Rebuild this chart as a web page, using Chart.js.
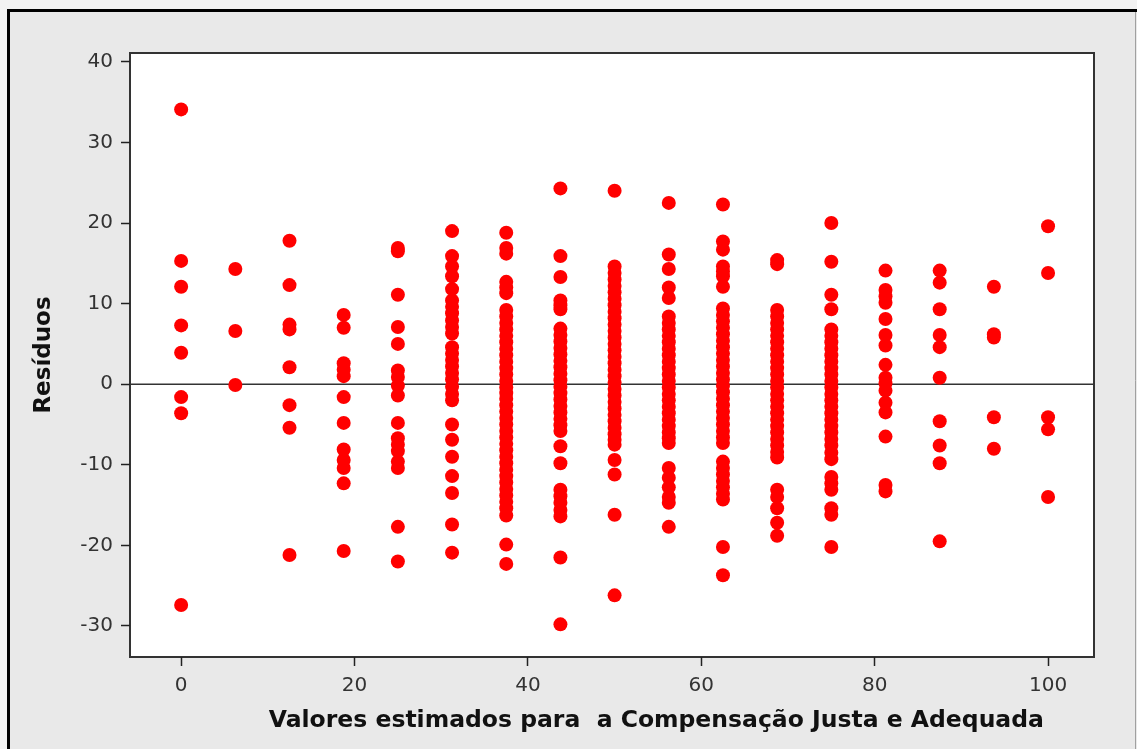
<!DOCTYPE html>
<html>
<head>
<meta charset="utf-8">
<title>Resíduos</title>
<script src="https://cdn.jsdelivr.net/npm/chart.js@4.4.1/dist/chart.umd.min.js"></script>
<style>
  html, body { margin: 0; padding: 0; background: #f2f2f2; }
  #wrap { width: 1137px; height: 749px; }
</style>
</head>
<body>
<div id="wrap"><canvas id="residuos" width="1137" height="749"></canvas></div>
<script>
// fitted values (one column of residuals per level)
const fittedLevels = [0, 6.25, 12.5, 18.75, 25, 31.25, 37.5, 43.75, 50, 56.25, 62.5, 68.75, 75, 81.25, 87.5, 93.75, 100]

const res00 = [34.1, 15.3, 12.1, 7.3, 3.9, -1.6, -3.6, -27.4]
const res06 = [14.3, 6.6, -0.1]
const res12 = [17.8, 12.3, 7.4, 6.8, 2.1, -2.6, -5.4, -21.2]
const res18 = [8.6, 7.0, 2.6, 1.8, 1.0, -1.6, -4.8, -8.1, -9.4, -10.4, -12.3, -20.7]
const res25 = [16.9, 16.5, 11.1, 7.1, 5.0, 1.7, 0.9, -0.2, -1.4, -4.8, -6.7, -7.5, -8.3, -9.6, -10.4, -17.7, -22.0]
const res31 = [19.0, 15.9, 14.6, 13.4, 11.8, 10.4, 9.6, 8.8, 7.9, 7.1, 6.3, 4.6, 3.8, 3.0, 2.2, 1.4, 0.6, -0.3, -1.2, -2.0,
  -5.0, -6.9, -9.0, -11.4, -13.5, -17.4, -20.9]
const res37 = [18.8, 16.9, 16.2, 12.7, 12.0, 11.3, 9.2, 8.4, 7.6, 6.8, 6.0, 5.2, 4.4, 3.6, 2.8, 2.0, 1.2, 0.4, -0.4, -1.1,
  -1.8, -2.6, -3.4, -4.2, -5.0, -5.8, -6.6, -7.4, -8.2, -9.0, -9.8, -10.6, -11.4, -12.2, -13.0, -13.8, -14.6, -15.4, -16.3,
  -19.9, -22.3]
const res43 = [24.3, 15.9, 13.3, 10.4, 9.8, 9.3, 6.9, 6.1, 5.3, 4.5, 3.7, 2.9, 2.1, 1.3, 0.5, -0.3, -1.1, -1.9, -2.7, -3.5,
  -4.3, -5.1, -5.8, -7.7, -9.8, -13.1, -13.9, -14.7, -15.6, -16.4, -21.5, -29.8]
const res50 = [24.0, 14.6, 13.8, 13.0, 12.2, 11.4, 10.6, 9.8, 9.0, 8.2, 7.4, 6.6, 5.8, 5.0, 4.2, 3.4, 2.6, 1.8, 1.0, 0.2,
  -0.6, -1.4, -2.2, -3.0, -3.8, -4.6, -5.4, -6.2, -6.9, -7.5, -9.4, -11.2, -16.2, -26.2]
const res56 = [22.5, 16.1, 14.3, 12.0, 10.7, 8.4, 7.6, 6.8, 6.0, 5.2, 4.4, 3.6, 2.8, 2.0, 1.2, 0.4, -0.4, -1.2, -2.0, -2.8,
  -3.6, -4.4, -5.2, -6.0, -6.7, -7.3, -10.4, -11.6, -12.8, -14.0, -14.7, -17.7]
const res62 = [22.3, 17.7, 16.7, 14.6, 14.0, 13.4, 12.1, 9.4, 8.6, 7.8, 7.0, 6.2, 5.4, 4.6, 3.8, 3.0, 2.2, 1.4, 0.6, -0.2,
  -1.0, -1.8, -2.6, -3.4, -4.2, -5.0, -5.8, -6.6, -7.3, -9.6, -10.4, -11.2, -12.0, -12.8, -13.6, -14.3, -20.2, -23.7]
const res68 = [15.4, 14.9, 9.2, 8.4, 7.6, 6.8, 6.0, 5.2, 4.4, 3.6, 2.8, 2.0, 1.2, 0.4, -0.4, -1.2, -2.0, -2.8, -3.6, -4.4,
  -5.2, -6.0, -6.8, -7.6, -8.4, -9.1, -13.1, -14.0, -15.4, -17.2, -18.8]
const res75 = [20.0, 15.2, 11.1, 9.3, 6.8, 6.0, 5.2, 4.4, 3.6, 2.8, 2.0, 1.2, 0.4, -0.4, -1.2, -2.0, -2.8, -3.6, -4.4, -5.2,
  -6.0, -6.8, -7.6, -8.5, -9.3, -11.5, -12.3, -13.1, -15.4, -16.2, -20.2]
const res81 = [14.1, 11.7, 10.9, 10.1, 8.1, 6.1, 4.8, 2.4, 0.8, 0.1, -0.8, -2.3, -3.5, -6.5, -12.5, -13.3]
const res87 = [14.1, 12.6, 9.3, 6.1, 4.6, 0.8, -4.6, -7.6, -9.8, -19.5]
const res93 = [12.1, 6.2, 5.8, -4.1, -8.0]
const res100 = [19.6, 13.8, -4.1, -5.6, -14.0]

const xTicks = [0, 20, 40, 60, 80, 100]
const yTicks = [-30, -20, -10, 0, 10, 20, 30, 40]

const xRange = [-5.9, 105.3]
const yRange = [-33.85, 41.1]
const zeroLevel = 0

const xTitle = "Valores estimados para  a Compensação Justa e Adequada"
const yTitle = "Resíduos"

const residualColumns = [res00, res06, res12, res18, res25, res31, res37, res43, res50,
  res56, res62, res68, res75, res81, res87, res93, res100]

const points = fittedLevels.flatMap((x, i) => residualColumns[i].map(y => ({ x: x, y: y })))

const tickFont = { family: "DejaVu Sans", size: 20 }
const titleFont = { family: "DejaVu Sans", size: 23, weight: "bold" }

// frame, white plot panel and the x caption
const framePlugin = {
  id: "frame",
  beforeDraw(chart) {
    const ctx = chart.ctx
    const area = chart.chartArea
    ctx.save()
    ctx.fillStyle = "#f2f2f2"
    ctx.fillRect(0, 0, chart.width, chart.height)
    ctx.fillStyle = "#e9e9e9"
    ctx.fillRect(8, 10, chart.width - 8, chart.height - 10)

    ctx.strokeStyle = "#000"
    ctx.lineWidth = 3
    ctx.beginPath()
    ctx.moveTo(8.5, chart.height)
    ctx.lineTo(8.5, 10.5)
    ctx.lineTo(chart.width, 10.5)
    ctx.stroke()
    ctx.strokeStyle = "#a0a0a0"
    ctx.lineWidth = 1
    ctx.beginPath()
    ctx.moveTo(chart.width - 1.5, 12)
    ctx.lineTo(chart.width - 1.5, chart.height)
    ctx.stroke()

    ctx.fillStyle = "#fff"
    ctx.fillRect(area.left, area.top, area.width, area.height)
    ctx.strokeStyle = "#333"
    ctx.lineWidth = 2
    ctx.strokeRect(area.left, area.top, area.width, area.height)
    ctx.restore()
  },
  afterDraw(chart) {
    const ctx = chart.ctx
    const area = chart.chartArea
    ctx.save()
    ctx.font = "bold 23.5px 'DejaVu Sans'"
    ctx.fillStyle = "#111"
    ctx.textAlign = "center"
    ctx.textBaseline = "alphabetic"
    ctx.fillText(xTitle, area.left + area.width * 0.546, area.bottom + 70)
    ctx.restore()
  }
}

new Chart(document.getElementById("residuos"), {
  type: "scatter",
  data: {
    datasets: [
      {
        type: "line",
        data: [{ x: xRange[0], y: zeroLevel }, { x: xRange[1], y: zeroLevel }],
        borderColor: "#333",
        borderWidth: 1.5,
        pointRadius: 0,
        order: 2
      },
      {
        data: points,
        backgroundColor: "#ff0000",
        borderWidth: 0,
        pointRadius: 7,
        pointHoverRadius: 7,
        order: 1
      }
    ]
  },
  options: {
    responsive: false,
    devicePixelRatio: 1,
    animation: false,
    events: [],
    layout: { padding: { left: 0, top: 53, right: 43, bottom: 0 } },
    plugins: {
      legend: { display: false },
      tooltip: { enabled: false }
    },
    scales: {
      x: {
        type: "linear",
        min: xRange[0],
        max: xRange[1],
        afterBuildTicks: s => { s.ticks = xTicks.map(v => ({ value: v })) },
        afterFit: s => { s.height = 92 },
        border: { display: false },
        grid: { drawOnChartArea: false, drawTicks: true, tickLength: 9, tickColor: "#222", tickWidth: 1.5 },
        ticks: { font: tickFont, color: "#333", padding: 8, maxRotation: 0 }
      },
      y: {
        type: "linear",
        min: yRange[0],
        max: yRange[1],
        afterBuildTicks: s => { s.ticks = yTicks.map(v => ({ value: v })) },
        afterFit: s => { s.width = 130 },
        border: { display: false },
        grid: { drawOnChartArea: false, drawTicks: true, tickLength: 9, tickColor: "#222", tickWidth: 1.5 },
        ticks: { font: tickFont, color: "#333", padding: 8 },
        title: { display: true, text: yTitle, font: titleFont, color: "#111", padding: { top: 30, bottom: 0 } }
      }
    }
  },
  plugins: [framePlugin]
})
</script>
</body>
</html>
